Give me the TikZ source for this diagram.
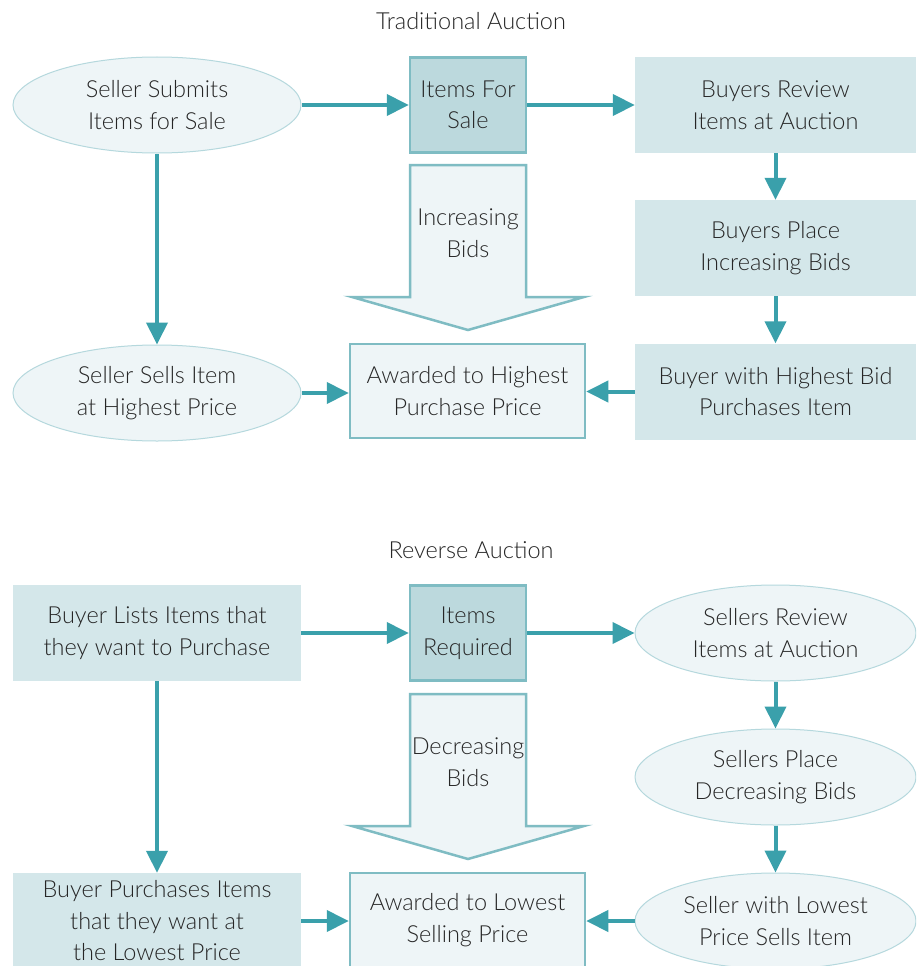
\documentclass[tikz,border=0pt]{standalone}
\usepackage{fontspec}
\setmainfont{Lato}[UprightFont={* Light}]
\usetikzlibrary{arrows.meta,shapes.geometric}
\definecolor{teal}{HTML}{3AA0AB}
\definecolor{boxfill}{HTML}{D4E7EA}
\definecolor{darkfill}{HTML}{BCD9DD}
\definecolor{lightfill}{HTML}{EEF5F7}
\definecolor{bord}{HTML}{7FBCC3}
\definecolor{ellbord}{HTML}{B5D8DD}
\definecolor{txt}{HTML}{262626}
\tikzset{
  base/.style={text=txt, align=center, font=\fontsize{23.5}{31.5}\selectfont, inner sep=0pt},
  ell/.style={base, ellipse, draw=ellbord, line width=1pt, fill=lightfill, minimum width=288pt, minimum height=96pt},
  rbox/.style={base, rectangle, fill=boxfill, minimum width=281pt, minimum height=96pt},
  lbox/.style={base, rectangle, fill=boxfill, minimum width=288pt, minimum height=96pt},
  mid/.style={base, rectangle, draw=bord, line width=2.5pt, fill=darkfill, minimum width=116pt, minimum height=95pt},
  award/.style={base, rectangle, draw=bord, line width=2.5pt, fill=lightfill, minimum width=235pt, minimum height=94pt},
  bigarrow/.style={draw=bord, line width=2.5pt, fill=lightfill, line join=miter},
  conn/.style={draw=teal, line width=4pt, -{Triangle[length=22pt,width=21pt]}},
  ttl/.style={base}
}
\begin{document}
\begin{tikzpicture}[x=1pt,y=-1pt]
\useasboundingbox (0,0) rectangle (916,966);
\clip (0,0) rectangle (916,966);
\fill[white] (0,0) rectangle (916,966);
% ---- Traditional
\node[ttl] (t1) at (471,21) {Traditional Auction};
\node[ell] (ss) at (157,105) {Seller Submits\\Items for Sale};
\node[mid] (ifs) at (468,105) {Items For\\Sale};
\node[rbox] (br) at (775.5,105) {Buyers Review\\Items at Auction};
\node[rbox] (bp) at (775.5,248) {Buyers Place\\Increasing Bids};
\node[rbox] (bh) at (775.5,391.5) {Buyer with Highest Bid\\Purchases Item};
\node[award] (ah) at (467.5,391) {Awarded to Highest\\Purchase Price};
\node[ell] (sl) at (157,393) {Seller Sells Item\\at Highest Price};
\path[bigarrow] (410,165) -- (526,165) -- (526,297) -- (584,297) -- (468,330) -- (352,297) -- (410,297) -- cycle;
\node[base] (inc) at (468,233) {Increasing\\Bids};
\draw[conn] (ss.east) -- (ifs.west);
\draw[conn] (ifs.east) -- (br.west);
\draw[conn] (br.south) -- (bp.north);
\draw[conn] (bp.south) -- (bh.north);
\draw[conn] (bh.west) -- (bh.west -| ah.east);
\draw[conn] (sl.east) -- (sl.east -| ah.west);
\draw[conn] (ss.south) -- (sl.north);
% ---- Reverse
\node[ttl] (t2) at (471,550) {Reverse Auction};
\node[lbox] (bl) at (157,633) {Buyer Lists Items that\\they want to Purchase};
\node[mid] (ir) at (468,633) {Items\\Required};
\node[ell,minimum width=281pt] (sr) at (775.5,633) {Sellers Review\\Items at Auction};
\node[ell,minimum width=281pt] (sp) at (775.5,777) {Sellers Place\\Decreasing Bids};
\node[ell,minimum width=281pt] (sw) at (775.5,921) {Seller with Lowest\\Price Sells Item};
\node[award] (al) at (467.5,920) {Awarded to Lowest\\Selling Price};
\node[lbox] (bpu) at (157,921) {Buyer Purchases Items\\that they want at\\the Lowest Price};
\path[bigarrow] (410,694) -- (526,694) -- (526,826) -- (584,826) -- (468,859) -- (352,826) -- (410,826) -- cycle;
\node[base] (dec) at (468,762) {Decreasing\\Bids};
\draw[conn] (bl.east) -- (ir.west);
\draw[conn] (ir.east) -- (sr.west);
\draw[conn] (sr.south) -- (sp.north);
\draw[conn] (sp.south) -- (sw.north);
\draw[conn] (sw.west) -- (sw.west -| al.east);
\draw[conn] (bpu.east) -- (bpu.east -| al.west);
\draw[conn] (bl.south) -- (bpu.north);
\end{tikzpicture}
\end{document}
